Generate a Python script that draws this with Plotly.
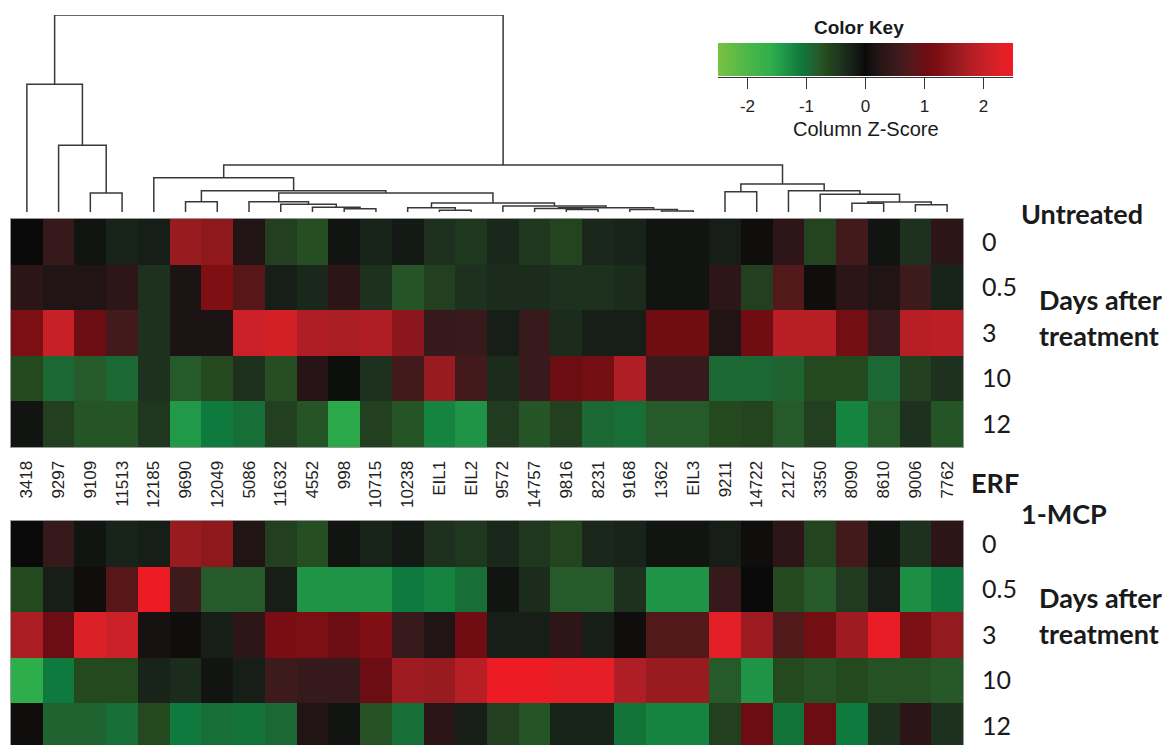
import plotly.graph_objects as go

W, H = 1165, 745

genes = ["3418", "9297", "9109", "11513", "12185", "9690", "12049", "5086",
         "11632", "4552", "998", "10715", "10238", "EIL1", "EIL2", "9572",
         "14757", "9816", "8231", "9168", "1362", "EIL3", "9211", "14722",
         "2127", "3350", "8090", "8610", "9006", "7762"]
days = ["0", "0.5", "3", "10", "12"]

# Column z-scores, one row per sampling day
erf_z = [
    [0.0, 0.45, -0.1, -0.25, -0.2, 1.55, 1.45, 0.2, -0.55, -0.7, -0.1, -0.25, -0.15, -0.4, -0.45,
     -0.3, -0.45, -0.6, -0.3, -0.25, -0.1, -0.1, -0.2, 0.05, 0.35, -0.6, 0.6, -0.1, -0.4, 0.3],
    [0.3, 0.2, 0.2, 0.35, -0.4, 0.15, 1.25, 0.8, -0.2, -0.3, 0.3, -0.4, -0.75, -0.55, -0.4,
     -0.35, -0.35, -0.4, -0.4, -0.35, -0.1, -0.1, 0.35, -0.55, 0.75, 0.05, 0.3, 0.2, 0.55, -0.25],
    [1.2, 2.0, 1.0, 0.6, -0.4, 0.15, 0.15, 2.05, 2.15, 1.75, 1.7, 1.75, 1.4, 0.45, 0.5,
     -0.2, 0.5, -0.35, -0.2, -0.2, 1.05, 1.05, 0.2, 1.05, 1.85, 1.85, 1.1, 0.5, 1.85, 1.9],
    [-0.65, -0.95, -0.8, -0.95, -0.4, -0.8, -0.65, -0.4, -0.7, 0.25, -0.05, -0.4, 0.6, 1.55, 0.6,
     -0.35, 0.5, 1.0, 1.1, 1.75, 0.5, 0.5, -0.95, -0.95, -0.9, -0.65, -0.65, -0.95, -0.55, -0.4],
    [-0.1, -0.55, -0.75, -0.75, -0.45, -1.4, -1.1, -1.0, -0.55, -0.75, -1.55, -0.55, -0.75, -1.2, -1.35,
     -0.5, -0.75, -0.55, -0.95, -1.0, -0.8, -0.8, -0.65, -0.6, -0.8, -0.55, -1.2, -0.8, -0.4, -0.75],
]

mcp_z = [
    [0.0, 0.45, -0.1, -0.25, -0.2, 1.55, 1.45, 0.2, -0.55, -0.7, -0.1, -0.25, -0.15, -0.4, -0.45,
     -0.3, -0.45, -0.6, -0.3, -0.25, -0.1, -0.1, -0.2, 0.05, 0.35, -0.6, 0.6, -0.1, -0.4, 0.3],
    [-0.65, -0.2, 0.05, 0.8, 2.5, 0.55, -0.8, -0.8, -0.2, -1.35, -1.35, -1.35, -1.1, -1.2, -1.0,
     -0.1, -0.35, -0.8, -0.8, -0.4, -1.35, -1.35, 0.45, 0.0, -0.65, -0.8, -0.5, -0.2, -1.3, -1.1],
    [1.7, 1.0, 2.25, 2.05, 0.12, 0.05, -0.2, 0.35, 1.15, 1.2, 1.0, 1.25, 0.5, 0.2, 1.05,
     -0.2, -0.2, 0.35, -0.2, 0.05, 0.75, 0.75, 2.35, 1.6, 0.75, 1.1, 1.6, 2.45, 1.2, 1.5],
    [-1.6, -1.1, -0.65, -0.65, -0.25, -0.35, -0.1, -0.2, 0.55, 0.45, 0.45, 1.0, 1.6, 1.55, 1.85,
     2.5, 2.5, 2.4, 2.4, 1.75, 1.55, 1.55, -0.8, -1.35, -0.65, -0.72, -0.65, -0.72, -0.72, -0.78],
    [0.05, -0.9, -0.9, -1.0, -0.65, -1.1, -1.0, -1.05, -0.95, 0.2, -0.1, -0.72, -1.0, 0.3, -0.2,
     -0.55, -0.75, -0.25, -0.25, -1.05, -1.2, -1.2, -0.55, 1.0, -1.05, 1.0, -1.1, -0.4, 0.3, -0.4],
]

# Column dendrogram: (node, left child, right child, merge height); ints are leaves
merges = [
    ("a", 2, 3, 19.0), ("b", 1, "a", 66.7), ("c", 0, "b", 127.7),
    ("d", 5, 6, 10.3), ("e", 10, 11, 3.3), ("f", 9, "e", 4.7),
    ("g", 8, "f", 7.7), ("h", 7, "g", 10.3), ("i", 13, 14, 1.7),
    ("j", 12, "i", 4.3), ("k", 17, 18, 2.5), ("l", 16, "k", 3.5),
    ("m", 20, 21, 1.0), ("n", 19, "m", 2.5), ("o", "l", "n", 4.3),
    ("p", 15, "o", 6.0), ("q", "j", "p", 9.0), ("r", "h", "q", 19.0),
    ("s", "d", "r", 21.3), ("t", 4, "s", 34.3), ("u", 22, 23, 20.3),
    ("v", 26, 27, 8.7), ("w", 28, 29, 7.3), ("x", "v", "w", 10.0),
    ("y", 25, "x", 17.7), ("z", 24, "y", 21.3), ("A", "u", "z", 28.0),
    ("B", "t", "A", 47.0), ("root", "c", "B", 197.0),
]

key_range = [-2.5, 2.5]
key_ticks = [-2, -1, 0, 1, 2]
key_ticktext = ["-2", "-1", "0", "1", "2"]
key_stops = [(-2.5, "#7AC143"), (-2.0, "#4CB748"), (-1.6, "#2EAE4B"), (-1.35, "#1F9447"),
             (-1.1, "#0F7A3D"), (-0.95, "#1B6834"), (-0.8, "#265A2A"), (-0.65, "#24491E"),
             (-0.45, "#1F361F"), (-0.25, "#18231A"), (-0.1, "#111411"), (0.0, "#0A0A0A"),
             (0.15, "#1B1314"), (0.3, "#2B1517"), (0.5, "#381A1C"), (0.75, "#52191B"),
             (1.0, "#6B0D13"), (1.25, "#800F14"), (1.5, "#931A1F"), (1.75, "#AE1E24"),
             (2.0, "#C72027"), (2.25, "#DB2027"), (2.5, "#ED1C24")]
colorscale = [[(v - key_range[0]) / (key_range[1] - key_range[0]), c] for v, c in key_stops]

# ---- layout geometry (pixels) ----
HM_LEFT, HM_RIGHT = 11, 963
TOP_HM = (219, 447)
BOT_HM_TOP = 521
DENDRO = (15, 212)
KEY = (718, 1013, 43.3, 76.7)
row_px = (TOP_HM[1] - TOP_HM[0]) / len(days)


def px_x(p):
    return p / W


def px_y(p):
    return 1 - p / H


ncol = len(genes)
cols = list(range(ncol))
rows = list(range(len(days)))

# dendrogram segments
pos = {i: (float(i), 0.0) for i in cols}
dx, dy = [], []
for node, a, b, h in merges:
    xa, ha = pos[a]
    xb, hb = pos[b]
    dx += [xa, xa, xb, xb, None]
    dy += [ha, h, h, hb, None]
    pos[node] = ((xa + xb) / 2, h)

fig = go.Figure()
fig.add_trace(go.Heatmap(z=erf_z, x=cols, y=rows, coloraxis="coloraxis",
                         xaxis="x", yaxis="y", hoverinfo="skip"))
fig.add_trace(go.Heatmap(z=mcp_z, x=cols, y=rows, coloraxis="coloraxis",
                         xaxis="x2", yaxis="y2", hoverinfo="skip"))
fig.add_trace(go.Scatter(x=dx, y=dy, mode="lines", line=dict(color="#383838", width=1.5),
                         xaxis="x3", yaxis="y3", cliponaxis=False, hoverinfo="skip",
                         showlegend=False))
fig.add_trace(go.Scatter(x=[], y=[], xaxis="x4", yaxis="y4", showlegend=False))

xdom = [px_x(HM_LEFT), px_x(HM_RIGHT)]
box = dict(showline=True, mirror=True, linecolor="#9a9a9a", linewidth=1,
           showgrid=False, zeroline=False)
arial = "Liberation Sans, Arial, sans-serif"
lato = "Lato, Open Sans, sans-serif"

bot_extent = -0.5 + (H - BOT_HM_TOP) / row_px

fig.update_layout(
    width=W, height=H, margin=dict(l=0, r=0, t=0, b=0),
    paper_bgcolor="white", plot_bgcolor="white", showlegend=False,
    coloraxis=dict(
        colorscale=colorscale, cmin=key_range[0], cmax=key_range[1],
        colorbar=dict(orientation="h", x=px_x(KEY[0]), xanchor="left",
                      y=px_y(KEY[2]), yanchor="top", len=KEY[1] - KEY[0], lenmode="pixels",
                      thickness=KEY[3] - KEY[2], xpad=0, ypad=0, outlinewidth=0,
                      ticks="", showticklabels=False),
    ),
    xaxis=dict(domain=xdom, anchor="y", range=[-0.5, ncol - 0.5], tickmode="array",
               tickvals=cols, ticktext=genes, tickangle=-90, ticks="",
               tickfont=dict(family=arial, size=17, color="#222"), ticklabelstandoff=6, **box),
    yaxis=dict(domain=[px_y(TOP_HM[1]), px_y(TOP_HM[0])], anchor="x",
               range=[len(days) - 0.5, -0.5], side="right", tickmode="array",
               tickvals=rows, ticktext=days, ticks="",
               tickfont=dict(family=lato, size=25, color="#1a1a1a"), ticklabelstandoff=13, **box),
    xaxis2=dict(domain=xdom, anchor="y2", range=[-0.5, ncol - 0.5], showticklabels=False,
                ticks="", **box),
    yaxis2=dict(domain=[0, px_y(BOT_HM_TOP)], anchor="x2", range=[bot_extent, -0.5],
                side="right", tickmode="array", tickvals=rows, ticktext=days, ticks="",
                tickfont=dict(family=lato, size=25, color="#1a1a1a"), ticklabelstandoff=13, **box),
    xaxis3=dict(domain=xdom, anchor="y3", range=[-0.5, ncol - 0.5], visible=False),
    yaxis3=dict(domain=[px_y(DENDRO[1]), px_y(DENDRO[0])], anchor="x3",
                range=[0, merges[-1][3]], visible=False),
    xaxis4=dict(domain=[px_x(KEY[0]), px_x(KEY[1])], anchor="y4", range=key_range,
                tickmode="array", tickvals=key_ticks, ticktext=key_ticktext,
                ticks="outside", ticklen=11,
                tickwidth=1.3, tickcolor="#333", showline=True, linecolor="#333",
                linewidth=1.3, showgrid=False, zeroline=False,
                tickfont=dict(family=arial, size=17, color="#222"), ticklabelstandoff=3),
    yaxis4=dict(domain=[px_y(KEY[3]), px_y(KEY[2])], anchor="x4", range=[0, 1], visible=False),
)

notes = [
    ("<b>Color Key</b>", 859, 28, "center", arial, 19),
    ("Column Z-Score", 866, 129, "center", arial, 20),
    ("<b>Untreated</b>", 1019, 214, "left", lato, 27),
    ("<b>Days after</b>", 1037, 299, "left", lato, 27),
    ("<b>treatment</b>", 1037, 335, "left", lato, 27),
    ("<b>ERF</b>", 969, 482, "left", lato, 27),
    ("<b>1-MCP</b>", 1019, 513, "left", lato, 27),
    ("<b>Days after</b>", 1037, 597, "left", lato, 27),
    ("<b>treatment</b>", 1037, 633, "left", lato, 27),
]
for text, x, y, anchor, fam, size in notes:
    fig.add_annotation(text=text, x=px_x(x), y=px_y(y), xref="paper", yref="paper",
                       xanchor=anchor, yanchor="middle", showarrow=False,
                       font=dict(family=fam, size=size, color="#1a1a1a"))

fig.write_html("out.html")
